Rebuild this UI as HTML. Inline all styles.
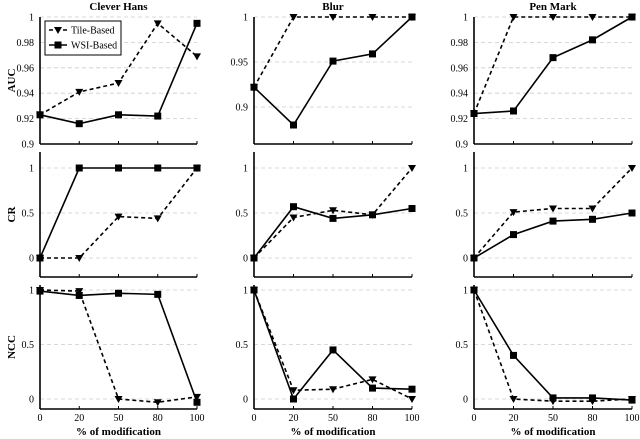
<!DOCTYPE html>
<html><head><meta charset="utf-8"><style>
html,body{margin:0;padding:0;background:#fff}
svg{display:block;font-family:"Liberation Serif",serif}
</style></head><body>
<svg id="chart" width="640" height="439" viewBox="0 0 640 439"></svg>
<script>
const categories = ["0","20","50","80","100"];
const columns = ["Clever Hans","Blur","Pen Mark"];
const metrics = ["AUC","CR","NCC"];
// AUC
const aucTileClever = [0.923,0.941,0.948,0.995,0.969];
const aucWsiClever  = [0.923,0.916,0.923,0.922,0.995];
const aucTileBlur   = [0.922,1,1,1,1];
const aucWsiBlur    = [0.922,0.880,0.951,0.959,1];
const aucTilePen    = [0.924,1,1,1,1];
const aucWsiPen     = [0.924,0.926,0.968,0.982,1];
// CR
const crTileClever = [0,0,0.46,0.44,1];
const crWsiClever  = [0,1,1,1,1];
const crTileBlur   = [0,0.45,0.53,0.48,1];
const crWsiBlur    = [0,0.57,0.44,0.48,0.55];
const crTilePen    = [0,0.51,0.55,0.55,1];
const crWsiPen     = [0,0.26,0.41,0.43,0.5];
// NCC
const nccTileClever = [1,0.99,0,-0.03,0.02];
const nccWsiClever  = [0.99,0.95,0.97,0.96,-0.03];
const nccTileBlur   = [1,0.08,0.09,0.18,0];
const nccWsiBlur    = [1,0,0.45,0.1,0.09];
const nccTilePen    = [1,0,-0.02,-0.02,0];
const nccWsiPen     = [1,0.4,0.01,0.01,-0.01];
// tick labels
const ticksAucFine = ["0.9","0.92","0.94","0.96","0.98","1"];
const ticksAucBlur = ["0.9","0.95","1"];
const ticksUnit = ["0","0.5","1"];

const tile = [[aucTileClever,aucTileBlur,aucTilePen],[crTileClever,crTileBlur,crTilePen],[nccTileClever,nccTileBlur,nccTilePen]];
const wsi  = [[aucWsiClever,aucWsiBlur,aucWsiPen],[crWsiClever,crWsiBlur,crWsiPen],[nccWsiClever,nccWsiBlur,nccWsiPen]];

const colX = [[40,197],[254,412],[474,632]];
// row layout: axis top/bottom px, and value domain mapping via two reference points
const rowLayout = [
  {top:17,bottom:144},
  {top:152,bottom:277},
  {top:285,bottom:409}
];
function yScale(r,c){
  if(r===0){
    if(c===1) return v=>17+(1-v)/0.05*45;
    return v=>17+(1-v)/0.1*127;
  }
  if(r===1) return v=>258-v*90;
  return v=>399-v*109;
}
function ticksFor(r,c){
  if(r===0) return c===1?ticksAucBlur:ticksAucFine;
  return ticksUnit;
}
const svg=document.getElementById('chart');
const NS="http://www.w3.org/2000/svg";
function mk(tag,attrs,parent){const e=document.createElementNS(NS,tag);for(const k in attrs)e.setAttribute(k,attrs[k]);(parent||svg).appendChild(e);return e;}

columns.forEach((t,c)=>{
  const e=mk('text',{x:(colX[c][0]+colX[c][1])/2,y:10,'text-anchor':'middle','font-size':11,'font-weight':'bold'});
  e.textContent=t;
  
  
});
metrics.forEach((m,r)=>{
  const L=rowLayout[r];const cy=(L.top+L.bottom)/2;
  const e=mk('text',{x:15,y:cy,'text-anchor':'middle','font-size':11,'font-weight':'bold',transform:`rotate(-90 15 ${cy})`});
  e.textContent=m;
  
  
});

for(let r=0;r<3;r++)for(let c=0;c<3;c++){
  const L=rowLayout[r];const [x0,x1]=colX[c];const ys=yScale(r,c);
  const xs=i=>x0+i*(x1-x0)/(categories.length-1);
  const g=mk('g',{});
  
  
  // gridlines + y ticks
  ticksFor(r,c).forEach(tl=>{
    const y=ys(parseFloat(tl));
    mk('line',{x1:x0,x2:x1,y1:y,y2:y,stroke:'#ccc','stroke-width':0.8,'stroke-dasharray':'4,3'},g);
    const t=mk('text',{x:x0-6,y:y+3.5,'text-anchor':'end','font-size':10},g);
    t.textContent=tl;
    
    
  });
  // axes
  mk('line',{x1:x0,x2:x0,y1:L.top,y2:L.bottom,stroke:'#000','stroke-width':1.6},g);
  mk('line',{x1:x0,x2:x1,y1:L.bottom,y2:L.bottom,stroke:'#000','stroke-width':1.6},g);
  categories.forEach((cat,i)=>{
    mk('line',{x1:xs(i),x2:xs(i),y1:L.bottom,y2:L.bottom-3,stroke:'#000','stroke-width':1},g);
    if(r===2){
      const t=mk('text',{x:xs(i),y:421,'text-anchor':'middle','font-size':10},g);
      t.textContent=cat;
      
      
    }
  });
  // series
  const tp=tile[r][c].map((v,i)=>xs(i)+','+ys(v)).join(' ');
  const tl=mk('polyline',{points:tp,fill:'none',stroke:'#000','stroke-width':1.6,'stroke-dasharray':'4,3'},g);
  
  
  const wp=wsi[r][c].map((v,i)=>xs(i)+','+ys(v)).join(' ');
  const wl=mk('polyline',{points:wp,fill:'none',stroke:'#000','stroke-width':1.6},g);
  
  
  tile[r][c].forEach((v,i)=>{
    const x=xs(i),y=ys(v);
    const p=mk('polygon',{points:`${x-4},${y-3} ${x+4},${y-3} ${x},${y+4}`,fill:'#000'},g);
    
    
  });
  wsi[r][c].forEach((v,i)=>{
    const x=xs(i),y=ys(v);
    const p=mk('rect',{x:x-3.5,y:y-3.5,width:7,height:7,fill:'#000'},g);
    
    
  });
}
columns.forEach((t,c)=>{
  const e=mk('text',{x:(colX[c][0]+colX[c][1])/2,y:435,'text-anchor':'middle','font-size':11,'font-weight':'bold'});
  e.textContent='% of modification';
  
  
});
// legend
const lg=mk('g',{});


mk('rect',{x:45,y:21,width:76,height:34,fill:'#fff',stroke:'#000','stroke-width':1},lg);
mk('line',{x1:49,x2:67,y1:30,y2:30,stroke:'#000','stroke-width':1.6,'stroke-dasharray':'4,3'},lg);
mk('polygon',{points:'54,27 62,27 58,34',fill:'#000'},lg);
mk('line',{x1:49,x2:67,y1:45,y2:45,stroke:'#000','stroke-width':1.6},lg);
mk('rect',{x:54.5,y:41.5,width:7,height:7,fill:'#000'},lg);
const l1=mk('text',{x:71,y:33.5,'font-size':10},lg);l1.textContent='Tile-Based';


const l2=mk('text',{x:71,y:48.5,'font-size':10},lg);l2.textContent='WSI-Based';


</script>
</body></html>
